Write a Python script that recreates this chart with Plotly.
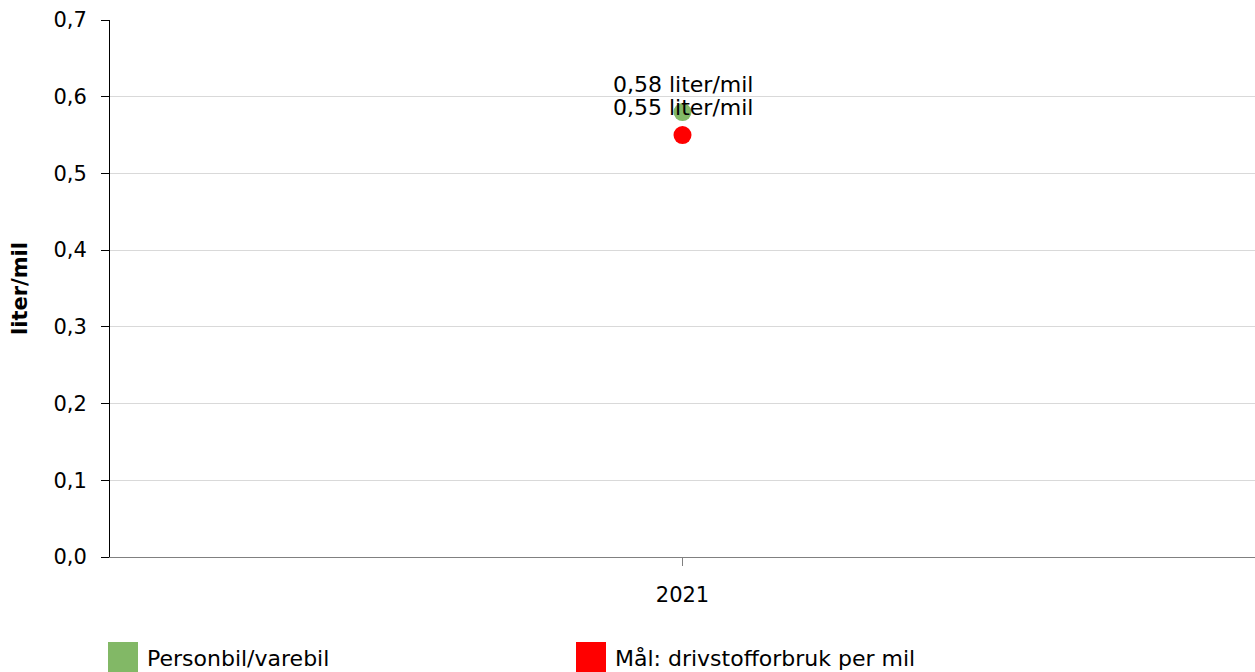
import plotly.graph_objects as go

years = ["2021"]
personbil = [0.58]
maal = [0.55]

series_names = ["Personbil/varebil", "Mål: drivstofforbruk per mil"]
series_colors = ["#82b866", "#ff0000"]
y_ticks = [0.0, 0.1, 0.2, 0.3, 0.4, 0.5, 0.6, 0.7]

FONT = "Verdana, DejaVu Sans, sans-serif"
FS = 21

fig = go.Figure()
for name, vals, col in zip(series_names, [personbil, maal], series_colors):
    fig.add_trace(go.Scatter(x=years, y=vals, name=name, mode="markers",
                             marker=dict(color=col, size=18), showlegend=False,
                             hoverinfo="skip"))
    for i, v in enumerate(vals):
        fig.add_annotation(x=i, y=v, text=("%.2f" % v).replace(".", ",") + " liter/mil",
                           showarrow=False, yanchor="middle", yshift=28,
                           font=dict(family=FONT, size=22, color="#000000"))

# legend drawn by hand so the squares match the original size
for name, col, lx in zip(series_names, series_colors, [108, 576]):
    x0 = (lx - 110) / 1145
    fig.add_shape(type="rect", xref="paper", yref="paper",
                  x0=x0, x1=x0 + 30 / 1145, y0=-(642 - 557) / 537, y1=-(675 - 557) / 537,
                  fillcolor=col, line=dict(width=0))
    fig.add_annotation(xref="paper", yref="paper", x=x0 + 37 / 1145, y=-(658 - 557) / 537,
                       text=name, showarrow=False, xanchor="left", yanchor="middle",
                       font=dict(family=FONT, size=22, color="#000000"))

fig.update_layout(
    width=1255, height=672,
    margin=dict(l=110, r=0, t=20, b=115),
    paper_bgcolor="white", plot_bgcolor="white",
    separators=", ",
    font=dict(family=FONT, size=FS, color="#000000"),
    showlegend=False,
)
fig.update_xaxes(type="category", range=[-0.5, 0.5], automargin=False,
                 showline=True, linecolor="#808080", linewidth=1,
                 ticks="outside", ticklen=8, tickcolor="#808080", showgrid=False,
                 ticklabelstandoff=11, tickfont=dict(size=FS, color="#000000"))
fig.update_yaxes(range=[0, 0.7], tickvals=y_ticks, tickformat=".1f", automargin=False,
                 showline=True, linecolor="#000000", linewidth=1,
                 ticks="outside", ticklen=8, tickcolor="#000000",
                 showgrid=True, gridcolor="#d9d9d9", gridwidth=1, zeroline=False,
                 ticklabelstandoff=10, tickfont=dict(size=FS, color="#000000"),
                 title=dict(text="<b>liter/mil</b>", font=dict(size=FS), standoff=20))

# drop the page's default body margin so the figure fills the window
fig.write_html("out.html", config={"displayModeBar": False},
               post_script="document.body.style.margin='0';document.body.style.overflow='hidden';")
